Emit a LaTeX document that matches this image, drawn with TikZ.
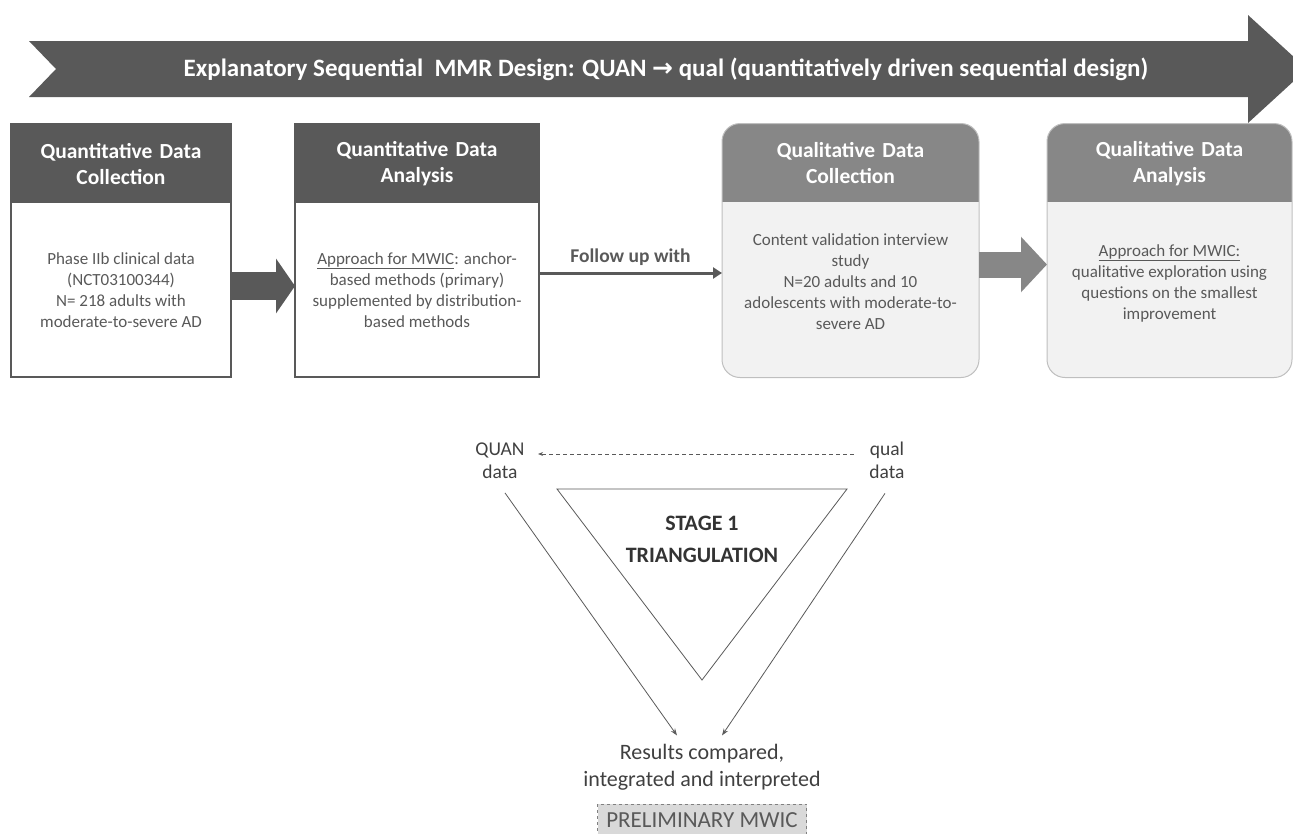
\documentclass[tikz,border=0pt]{standalone}
\usepackage{fontspec}
\setmainfont{Carlito}
\newfontfamily\arrowfont{DejaVu Sans}
\usetikzlibrary{positioning,arrows.meta}
\definecolor{quandark}{HTML}{595959}
\definecolor{qualhead}{HTML}{878787}
\definecolor{qualfill}{HTML}{F2F2F2}
\definecolor{qualline}{HTML}{BFBFBF}
\definecolor{txtgray}{HTML}{595959}
\definecolor{prelimfill}{HTML}{D9D9D9}
\tikzset{
  quanbox/.style={draw=quandark,line width=1.5pt,fill=white,minimum height=253pt,inner sep=0pt,outer sep=0pt,
    path picture={\fill[quandark,sharp corners] (path picture bounding box.north west) rectangle ([yshift=-79pt]path picture bounding box.north east);}},
  qualbox/.style={draw=qualline,line width=1pt,fill=qualfill,rounded corners=18pt,minimum height=254pt,inner sep=0pt,outer sep=0pt,
    path picture={\fill[qualhead,sharp corners] (path picture bounding box.north west) rectangle ([yshift=-78pt]path picture bounding box.north east);}},
  boxtitle/.style={text=white,font=\bfseries\fontsize{21.5}{26}\selectfont,align=center,anchor=north,minimum height=79pt,inner sep=0pt},
  boxtext/.style={text=txtgray,font=\fontsize{17}{21}\selectfont,align=center,inner sep=0pt},
  blockarr/.style 2 args={line width=#1,-{Triangle[length=#2,width=54pt]}},
  followarr/.style={draw=quandark,line width=3pt,-{Triangle[length=9pt,width=11pt]}},
  followlbl/.style={above=3pt,text=quandark,font=\bfseries\fontsize{19.5}{22}\selectfont},
  bannertext/.style={text=white,font=\bfseries\fontsize{25}{28}\selectfont},
  datalbl/.style={text=black!75,font=\fontsize{19.5}{23}\selectfont,align=center},
  dasharr/.style={draw=quandark,line width=0.8pt,dash pattern=on 4pt off 3pt,-{Stealth[length=5pt,width=4pt]}},
  thinarr/.style={draw=quandark,line width=0.8pt,-{Stealth[length=7pt,width=5pt]}},
  stagelbl/.style={text=black!80,font=\bfseries\fontsize{22}{32}\selectfont,align=center},
  reslbl/.style={text=black!75,font=\fontsize{22}{27}\selectfont,align=center},
  prelim/.style={draw=black!50,dashed,fill=prelimfill,line width=0.8pt,minimum width=209pt,minimum height=32pt,inner sep=0pt,
    text=txtgray,font=\fontsize{23}{24}\selectfont}
}

\begin{document}
\begin{tikzpicture}[x=1pt,y=-1pt]
\useasboundingbox (0,0) rectangle (1293,833);

\fill[quandark] (29,41) -- (1248,41) -- (1248,15) -- (1307,69) -- (1248,123) -- (1248,97) -- (29,97) -- (56,69) -- cycle;
\node[bannertext] (banner) at (666,69) {Explanatory Sequential\ \ MMR Design: QUAN {\arrowfont\bfseries\char"2192} qual (quantitatively driven sequential design)};

\node[quanbox,minimum width=220pt] (qb1) at (121,250.5) {};
\node[quanbox,minimum width=244pt,right=64pt of qb1] (qb2) {};
\node[qualbox,minimum width=257pt,right=183pt of qb2] (qc3) {};
\node[qualbox,minimum width=245pt,right=68pt of qc3] (qc4) {};

\node[boxtitle,text width=220pt] (t1) at (qb1.north) {Quantitative Data\\Collection};
\node[boxtitle,text width=244pt] (t2) at (qb2.north) {Quantitative Data\\Analysis};
\node[boxtitle,text width=257pt] (t3) at (qc3.north) {Qualitative Data\\Collection};
\node[boxtitle,text width=245pt] (t4) at (qc4.north) {Qualitative Data\\Analysis};

\node[boxtext] (x1) at ([yshift=-39.5pt]qb1.center) {Phase IIb clinical data\\(NCT03100344)\\N= 218 adults with\\moderate-to-severe AD};
\node[boxtext] (x2) at ([yshift=-39.5pt]qb2.center) {\underline{Approach for MWIC}: anchor-\\based methods (primary)\\supplemented by distribution-\\based methods};
\node[boxtext] (x3) at ([yshift=-31pt]qc3.center) {Content validation interview\\study\\N=20 adults and 10\\adolescents with moderate-to-\\severe AD};
\node[boxtext] (x4) at ([yshift=-33pt]qc4.center) {\underline{Approach for MWIC:}\\qualitative exploration using\\questions on the smallest\\improvement};

\draw[blockarr={28pt}{19pt},draw=quandark] ([yshift=-35.5pt]qb1.east) -- ([yshift=-35.5pt]qb2.west);
\draw[followarr] ([yshift=-22.5pt]qb2.east) -- node[followlbl] {Follow up with} ([yshift=-22.5pt]qc3.west);
\draw[blockarr={26pt}{26pt},draw=qualhead] ([yshift=-14pt]qc3.east) -- ([yshift=-14pt]qc4.west);

\node[datalbl] (quan) at (500,460.5) {QUAN\\data};
\node[datalbl] (qual) at (887,460.5) {qual\\data};
\draw[dasharr,shorten <=12pt,shorten >=10pt] ([yshift=6.5pt]qual.west) -- ([yshift=6.5pt]quan.east);

\draw[quandark,line width=0.8pt] (557,489) -- (847,489) -- (702,680) -- cycle;
\node[stagelbl] (stage) at (702,539) {STAGE 1\\TRIANGULATION};

\node[reslbl] (res) at (702,767) {Results compared,\\integrated and interpreted};
\node[prelim,below=10pt of res] (pre) {PRELIMINARY MWIC};

\draw[thinarr] ([shift={(5,11)}]quan.south) -- ([shift={(-25,-5)}]res.north);
\draw[thinarr] ([shift={(-2,11)}]qual.south) -- ([shift={(20,-5)}]res.north);

\end{tikzpicture}
\end{document}
